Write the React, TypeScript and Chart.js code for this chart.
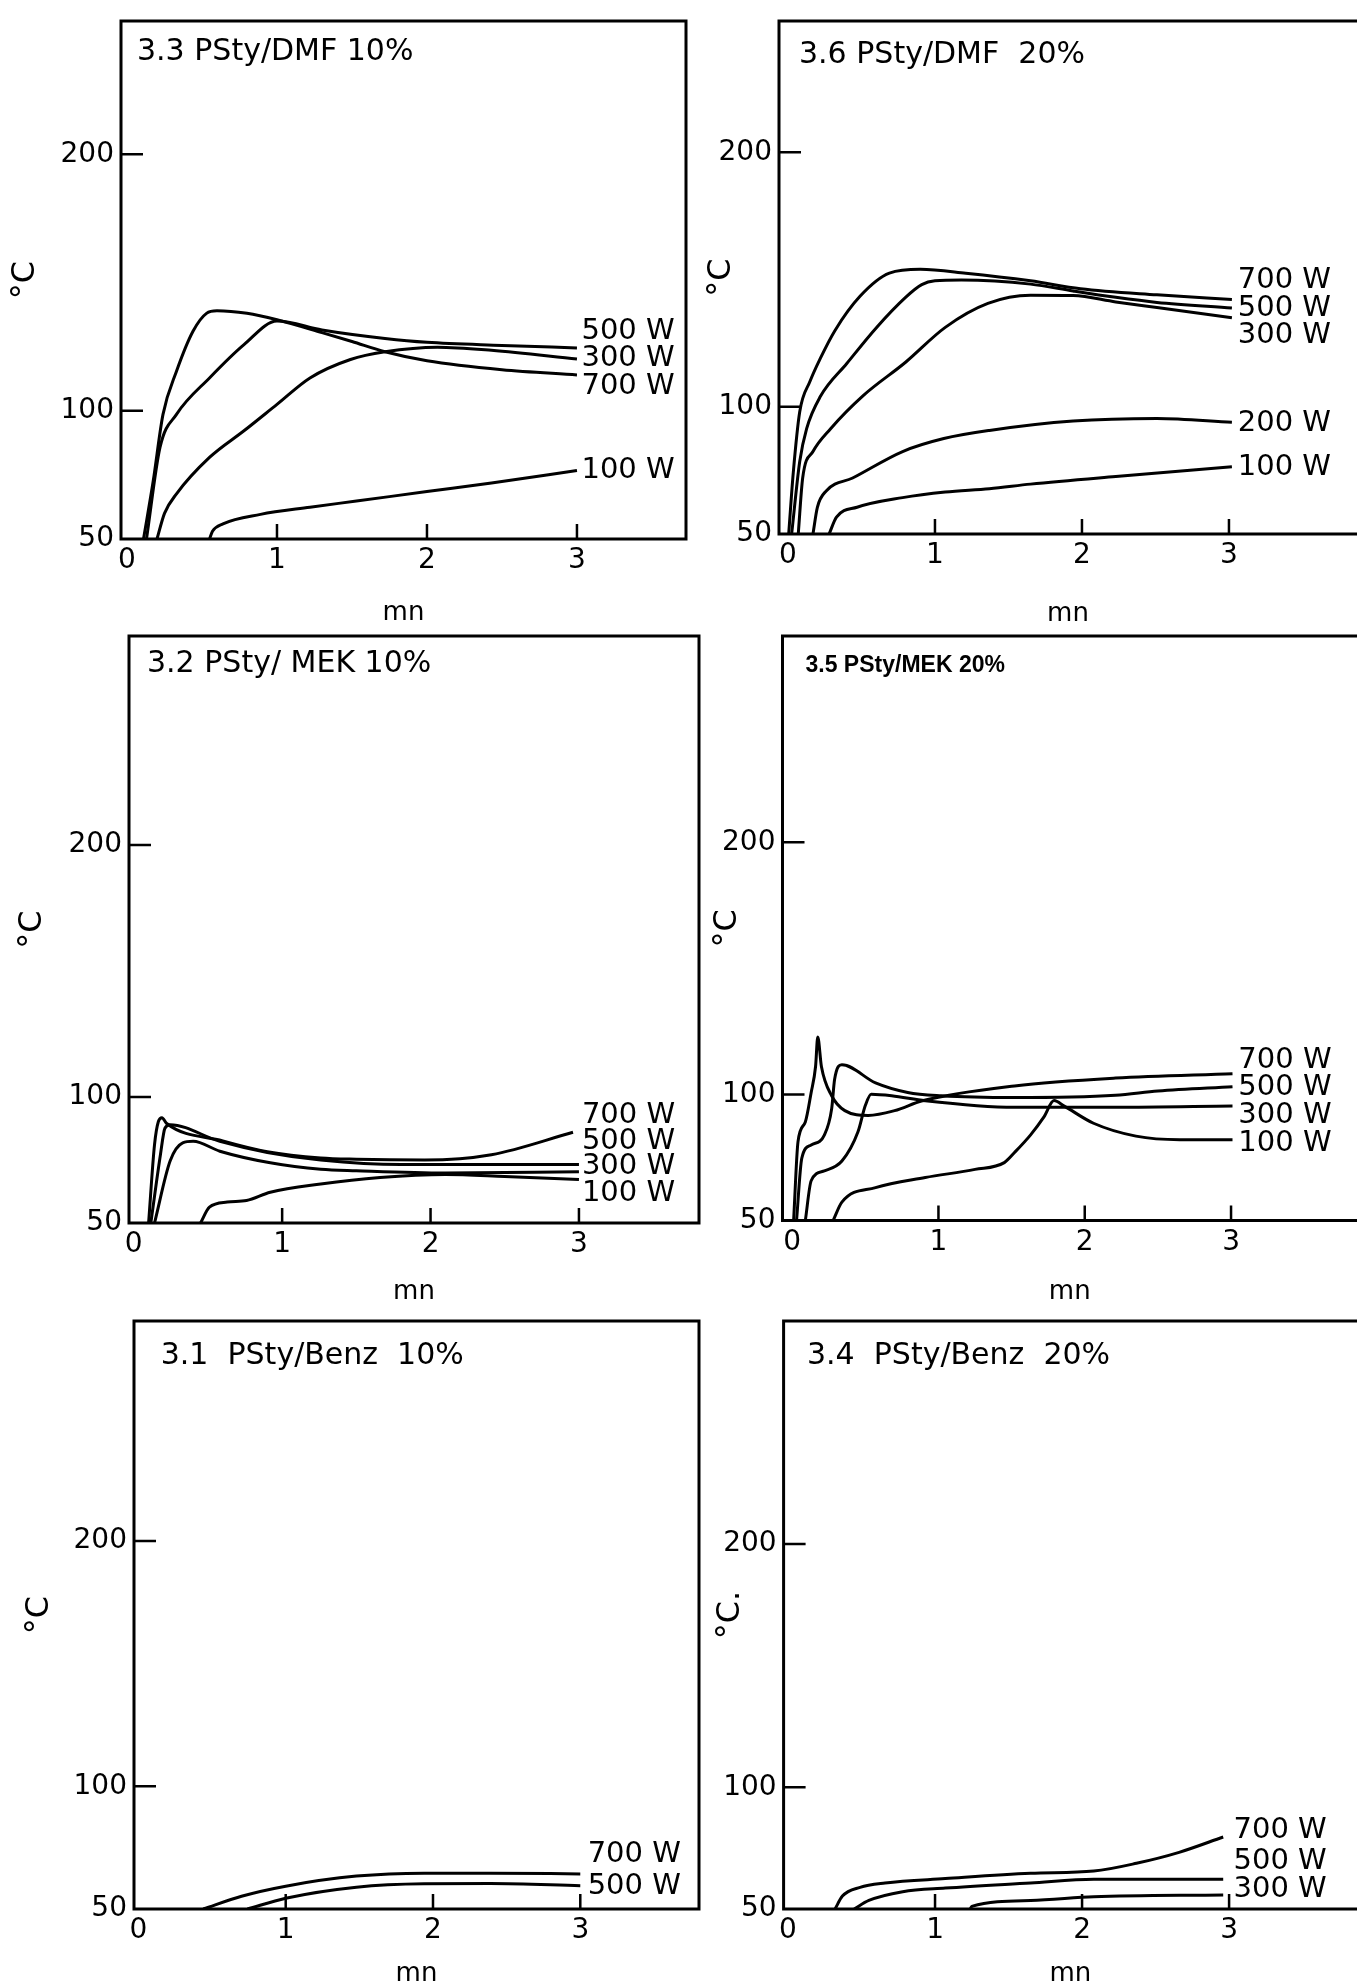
import React, { useEffect, useRef } from 'react';
import { Chart, registerables } from 'chart.js';

Chart.register(...registerables);

const FONT = 'DejaVu Sans';

// ---- axis ticks ----
const X_TICKS = [0, 1, 2, 3];
const Y_TICKS = [50, 100, 200];
const X_INNER_TICKS = [1, 2, 3];
const Y_INNER_TICKS = [100, 200];

// ---- 3.3 PSty/DMF 10% ----
const dmf10_x700 = [0.11, 0.175, 0.24, 0.33, 0.44, 0.53, 0.6, 0.8, 1.0, 1.3, 1.5, 1.72, 2.0, 2.5, 3.0];
const dmf10_y700 = [50, 72.7, 98.6, 115.4, 131, 138, 139, 138, 135.5, 130.5, 127, 123, 119.5, 116, 114];
const dmf10_x500 = [0.13, 0.22, 0.33, 0.55, 0.78, 1.0, 1.3, 1.72, 2.0, 2.5, 3.0];
const dmf10_y500 = [50, 85.7, 98.6, 112.8, 125.8, 135, 131.5, 128.2, 126.7, 125.5, 124.5];
const dmf10_x300 = [0.2, 0.25, 0.33, 0.55, 0.78, 1.0, 1.22, 1.49, 1.72, 2.07, 2.43, 3.0];
const dmf10_y300 = [50, 60, 67.6, 81.8, 92.2, 102.5, 112.8, 120, 123, 124.8, 123.6, 120.2];
const dmf10_x100 = [0.55, 0.57, 0.64, 0.89, 1.22, 1.53, 2.0, 2.43, 3.0];
const dmf10_y100 = [50, 53, 55.9, 59.6, 62.4, 64.8, 68.5, 71.8, 76.7];
const dmf10_labels = ['500 W', '300 W', '700 W', '100 W'];
const dmf10_labelY = [131, 120.5, 109.3, 76.7];

// ---- 3.6 PSty/DMF 20% ----
const dmf20_x700 = [0.005, 0.036, 0.08, 0.15, 0.22, 0.32, 0.49, 0.69, 0.9, 1.21, 1.65, 1.99, 2.51, 3.02];
const dmf20_y700 = [50, 74, 98, 110, 119, 130, 143.4, 152.5, 154, 152.5, 149.5, 146.4, 144, 142.2];
const dmf20_x500 = [0.025, 0.08, 0.127, 0.22, 0.4, 0.6, 0.8, 0.91, 1.0, 1.18, 1.65, 1.94, 2.23, 2.51, 3.02];
const dmf20_y500 = [50, 78.5, 91.4, 104, 117, 131, 143, 148, 149.5, 149.8, 148.2, 145.5, 143, 141, 138.8];
const dmf20_x300 = [0.07, 0.1, 0.17, 0.29, 0.51, 0.8, 1.07, 1.36, 1.65, 1.94, 2.23, 2.51, 3.02];
const dmf20_y300 = [50, 72, 82.4, 91.4, 104.3, 117.5, 131.2, 140.6, 143.8, 143.7, 141.2, 139, 135];
const dmf20_x200 = [0.17, 0.2, 0.26, 0.44, 0.78, 1.06, 1.37, 1.94, 2.51, 3.02];
const dmf20_y200 = [50, 60.5, 66.9, 72, 82.4, 87.5, 90.7, 94.4, 95.4, 93.9];
const dmf20_x100 = [0.28, 0.33, 0.47, 0.78, 1.07, 1.37, 1.65, 2.23, 3.02];
const dmf20_y100 = [50, 56.6, 60.5, 64.3, 66.5, 67.8, 69.6, 72.6, 76.4];
const dmf20_labels = ['700 W', '500 W', '300 W', '200 W', '100 W'];
const dmf20_labelY = [149.5, 138.8, 128.2, 93.5, 76];

// ---- 3.2 PSty/MEK 10% ----
const mek10_x700 = [0.1, 0.14, 0.166, 0.19, 0.22, 0.6, 0.9, 1.26, 1.5, 1.96, 2.41, 2.96];
const mek10_y700 = [50, 81.1, 90.3, 91.8, 89.6, 82.6, 78.3, 75.8, 75.3, 75, 77.1, 86];
const mek10_x500 = [0.115, 0.18, 0.21, 0.245, 0.58, 0.9, 1.26, 1.8, 3.0];
const mek10_y500 = [50, 77.2, 87.6, 89, 82.4, 78, 75, 73.2, 73.2];
const mek10_x300 = [0.14, 0.245, 0.33, 0.4, 0.58, 0.92, 1.26, 1.5, 2.1, 3.0];
const mek10_y300 = [50, 74.6, 81.8, 82.4, 78.5, 73.9, 71.3, 70.7, 69.8, 70.3];
const mek10_x100 = [0.45, 0.51, 0.63, 0.76, 0.92, 1.26, 1.66, 2.1, 2.5, 3.0];
const mek10_y100 = [50, 56.3, 58.3, 58.9, 62.2, 65.5, 68.1, 69.3, 68.5, 67.3];
const mek10_labels = ['700 W', '500 W', '300 W', '100 W'];
const mek10_labelY = [92.7, 82.5, 72.4, 61.9];

// ---- 3.5 PSty/MEK 20% ----
const mek20_x700 = [0.01, 0.04, 0.09, 0.13, 0.16, 0.175, 0.2, 0.27, 0.36, 0.52, 0.7, 0.89, 1.52, 2.21, 3.01];
const mek20_y700 = [50, 81.3, 89.1, 100.8, 111.1, 122.8, 111.1, 99.5, 93.6, 91.7, 93.6, 97.5, 103.4, 106.5, 108.2];
const mek20_x500 = [0.03, 0.066, 0.13, 0.22, 0.27, 0.29, 0.34, 0.57, 0.79, 1.02, 1.52, 2.21, 2.5, 3.01];
const mek20_y500 = [50, 74.8, 80, 83.9, 94.3, 105.9, 111.8, 104.6, 100.8, 99.5, 98.8, 99.7, 101.4, 103.1];
const mek20_x300 = [0.09, 0.13, 0.22, 0.34, 0.45, 0.5, 0.54, 0.68, 0.91, 1.52, 2.21, 3.01];
const mek20_y300 = [50, 65.8, 69.7, 73.6, 85.2, 95.6, 100.1, 99.5, 97.5, 94.9, 94.9, 95.4];
const mek20_x100 = [0.28, 0.34, 0.57, 0.91, 1.25, 1.45, 1.52, 1.63, 1.72, 1.79, 1.86, 2.06, 2.35, 2.65, 3.01];
const mek20_y100 = [50, 57.3, 63.1, 67.1, 70.3, 73, 77, 84, 91, 97.6, 95.4, 88.6, 83.5, 82.1, 82.1];
const mek20_labels = ['700 W', '500 W', '300 W', '100 W'];
const mek20_labelY = [113.3, 102.6, 91.5, 80.6];

// ---- 3.1 PSty/Benz 10% ----
const benz10_x700 = [0.44, 0.7, 1.0, 1.48, 1.94, 2.39, 3.0];
const benz10_y700 = [50, 55.2, 59.3, 63.4, 64.6, 64.6, 64.3];
const benz10_x500 = [0.74, 1.0, 1.48, 1.94, 2.39, 3.0];
const benz10_y500 = [50, 54.4, 58.9, 60.3, 60.4, 59.5];
const benz10_labels = ['700 W', '500 W'];
const benz10_labelY = [72.3, 59.3];

// ---- 3.4 PSty/Benz 20% ----
const benz20_x700 = [0.32, 0.37, 0.49, 0.66, 1.07, 1.65, 2.08, 2.37, 2.66, 2.96];
const benz20_y700 = [50, 55.3, 58.9, 60.7, 62.5, 64.7, 65.6, 68.8, 73.3, 79.6];
const benz20_x500 = [0.45, 0.55, 0.78, 1.07, 1.65, 2.08, 2.96];
const benz20_y500 = [50, 53.5, 57.1, 58.6, 60.7, 62.2, 62.2];
const benz20_x300 = [1.24, 1.25, 1.65, 2.08, 2.96];
const benz20_y300 = [50, 51.1, 53.5, 55, 55.8];
const benz20_labels = ['700 W', '500 W', '300 W'];
const benz20_labelY = [82.1, 69.7, 58];

type SeriesDef = { x: number[]; y: number[] };
type PanelDef = {
  key: string;
  title: string;
  titleFont: string;
  yTitle: string;
  series: SeriesDef[];
  labels: string[];
  labelY: number[];
  labelX: number;
  left: number; top: number; w: number; h: number;
  padT: number; padR: number;
  yWidth: number; xHeight: number;
  xMin: number; xMax: number; yMax: number;
  yTitlePad: number; xTitlePad: number;
  titleDx: number; titleDy: number;
  closed: boolean;
};

const mainTitleFont = `30px "${FONT}"`;
const TICK_SIZE = 28;
const LABEL_FONT = `29px "${FONT}"`;

const PANELS: PanelDef[] = [
  {
    key: 'dmf10', title: '3.3 PSty/DMF 10%', titleFont: mainTitleFont, yTitle: '°C',
    series: [
      { x: dmf10_x700, y: dmf10_y700 }, { x: dmf10_x500, y: dmf10_y500 },
      { x: dmf10_x300, y: dmf10_y300 }, { x: dmf10_x100, y: dmf10_y100 },
    ],
    labels: dmf10_labels, labelY: dmf10_labelY, labelX: 3.03,
    left: 0, top: 0, w: 705, h: 640, padT: 18, padR: 19, yWidth: 121, xHeight: 101,
    xMin: -0.04, xMax: 3.727, yMax: 252, yTitlePad: 10, xTitlePad: 14, titleDx: 16, titleDy: 39, closed: true,
  },
  {
    key: 'dmf20', title: '3.6 PSty/DMF  20%', titleFont: mainTitleFont, yTitle: '°C',
    series: [
      { x: dmf20_x700, y: dmf20_y700 }, { x: dmf20_x500, y: dmf20_y500 },
      { x: dmf20_x300, y: dmf20_y300 }, { x: dmf20_x200, y: dmf20_y200 },
      { x: dmf20_x100, y: dmf20_y100 },
    ],
    labels: dmf20_labels, labelY: dmf20_labelY, labelX: 3.06,
    left: 700, top: 0, w: 657, h: 640, padT: 12, padR: 0, yWidth: 79, xHeight: 106,
    xMin: -0.061, xMax: 3.871, yMax: 251.6, yTitlePad: 6, xTitlePad: 13, titleDx: 20, titleDy: 41.5, closed: false,
  },
  {
    key: 'mek10', title: '3.2 PSty/ MEK 10%', titleFont: mainTitleFont, yTitle: '°C',
    series: [
      { x: mek10_x700, y: mek10_y700 }, { x: mek10_x500, y: mek10_y500 },
      { x: mek10_x300, y: mek10_y300 }, { x: mek10_x100, y: mek10_y100 },
    ],
    labels: mek10_labels, labelY: mek10_labelY, labelX: 3.02,
    left: 0, top: 615, w: 705, h: 690, padT: 12.8, padR: 6, yWidth: 129, xHeight: 82,
    xMin: -0.032, xMax: 3.809, yMax: 283, yTitlePad: 17, xTitlePad: 0, titleDx: 18, titleDy: 35.6, closed: true,
  },
  {
    key: 'mek20', title: '3.5 PSty/MEK 20%', titleFont: 'bold 23px "Liberation Sans"', yTitle: '°C',
    series: [
      { x: mek20_x700, y: mek20_y700 }, { x: mek20_x500, y: mek20_y500 },
      { x: mek20_x300, y: mek20_y300 }, { x: mek20_x100, y: mek20_y100 },
    ],
    labels: mek20_labels, labelY: mek20_labelY, labelX: 3.05,
    left: 700, top: 615, w: 657, h: 690, padT: 9.3, padR: 0, yWidth: 82.5, xHeight: 84.4,
    xMin: -0.066, xMax: 3.861, yMax: 281.8, yTitlePad: 12, xTitlePad: 0, titleDx: 23, titleDy: 35.6, closed: false,
  },
  {
    key: 'benz10', title: '3.1  PSty/Benz  10%', titleFont: mainTitleFont, yTitle: '°C',
    series: [{ x: benz10_x700, y: benz10_y700 }, { x: benz10_x500, y: benz10_y500 }],
    labels: benz10_labels, labelY: benz10_labelY, labelX: 3.05,
    left: 0, top: 1300, w: 705, h: 687, padT: 21, padR: 6, yWidth: 134, xHeight: 78,
    xMin: -0.03, xMax: 3.806, yMax: 289.6, yTitlePad: 24, xTitlePad: 0, titleDx: 26.7, titleDy: 42.5, closed: true,
  },
  {
    key: 'benz20', title: '3.4  PSty/Benz  20%', titleFont: mainTitleFont, yTitle: '°C.',
    series: [
      { x: benz20_x700, y: benz20_y700 }, { x: benz20_x500, y: benz20_y500 },
      { x: benz20_x300, y: benz20_y300 },
    ],
    labels: benz20_labels, labelY: benz20_labelY, labelX: 3.03,
    left: 700, top: 1300, w: 657, h: 687, padT: 21, padR: 0, yWidth: 83.6, xHeight: 78,
    xMin: -0.03, xMax: 3.87, yMax: 291.7, yTitlePad: 14.5, xTitlePad: 0, titleDx: 23.4, titleDy: 42.5, closed: false,
  },
];

const decorPlugin = {
  id: 'decor',
  afterDraw(chart: any, _args: any, opts: any) {
    const { ctx, chartArea: a, scales } = chart;
    const xs = scales.x;
    const ys = scales.y;
    ctx.save();
    ctx.strokeStyle = '#000';
    ctx.fillStyle = '#000';
    ctx.lineWidth = 3;
    ctx.lineCap = 'square';
    ctx.beginPath();
    ctx.moveTo(a.right, a.top);
    ctx.lineTo(a.left, a.top);
    ctx.lineTo(a.left, a.bottom);
    ctx.lineTo(a.right, a.bottom);
    if (opts.closed) ctx.lineTo(a.right, a.top);
    ctx.stroke();

    ctx.lineWidth = 2.5;
    ctx.lineCap = 'butt';
    ctx.beginPath();
    for (const v of X_INNER_TICKS) {
      const px = xs.getPixelForValue(v);
      ctx.moveTo(px, a.bottom);
      ctx.lineTo(px, a.bottom - 15);
    }
    for (const v of Y_INNER_TICKS) {
      const py = ys.getPixelForValue(v);
      ctx.moveTo(a.left, py);
      ctx.lineTo(a.left + 22, py);
    }
    ctx.stroke();

    // curve labels
    ctx.font = LABEL_FONT;
    ctx.textAlign = 'left';
    ctx.textBaseline = 'middle';
    const lx = xs.getPixelForValue(opts.labelX);
    opts.labels.forEach((t: string, i: number) => {
      ctx.fillText(t, lx, ys.getPixelForValue(opts.labelY[i]));
    });

    // panel title
    ctx.font = opts.titleFont;
    ctx.textBaseline = 'alphabetic';
    ctx.fillText(opts.title, a.left + opts.titleDx, a.top + opts.titleDy);
    ctx.restore();
  },
};

function buildConfig(p: PanelDef): any {
  return {
    type: 'line',
    data: {
      datasets: p.series.map((s) => ({
        data: s.x.map((x, i) => ({ x, y: s.y[i] })),
        borderColor: '#000',
        borderWidth: 3,
        pointRadius: 0,
        fill: false,
        cubicInterpolationMode: 'monotone',
      })),
    },
    options: {
      animation: false,
      responsive: false,
      events: [],
      layout: { padding: { left: 0, top: p.padT, right: p.padR, bottom: 0 } },
      plugins: {
        legend: { display: false },
        tooltip: { enabled: false },
        decor: {
          closed: p.closed,
          labels: p.labels,
          labelY: p.labelY,
          labelX: p.labelX,
          title: p.title,
          titleFont: p.titleFont,
          titleDx: p.titleDx,
          titleDy: p.titleDy,
        },
      },
      scales: {
        x: {
          type: 'linear',
          min: p.xMin,
          max: p.xMax,
          afterBuildTicks: (s: any) => { s.ticks = X_TICKS.map((v) => ({ value: v })); },
          afterFit: (s: any) => { s.height = p.xHeight; },
          grid: { display: false, drawTicks: false },
          border: { display: false },
          ticks: {
            autoSkip: false,
            maxRotation: 0,
            padding: 8,
            color: '#000',
            font: { family: FONT, size: TICK_SIZE, lineHeight: 1 },
            callback: (v: any) => String(v),
          },
          title: {
            display: true,
            text: 'mn',
            color: '#000',
            font: { family: FONT, size: 26, lineHeight: 1 },
            padding: { top: 0, bottom: p.xTitlePad },
          },
        },
        y: {
          type: 'linear',
          min: 50,
          max: p.yMax,
          afterBuildTicks: (s: any) => { s.ticks = Y_TICKS.map((v) => ({ value: v })); },
          afterFit: (s: any) => { s.width = p.yWidth; },
          grid: { display: false, drawTicks: false },
          border: { display: false },
          ticks: {
            autoSkip: false,
            padding: 7,
            color: '#000',
            font: { family: FONT, size: TICK_SIZE, lineHeight: 1 },
            callback: (v: any) => String(v),
          },
          title: {
            display: true,
            text: p.yTitle,
            color: '#000',
            font: { family: FONT, size: 32, lineHeight: 1 },
            padding: { top: p.yTitlePad, bottom: 0 },
          },
        },
      },
    },
    plugins: [decorPlugin],
  };
}

function PanelChart({ p }: { p: PanelDef }) {
  const ref = useRef<HTMLCanvasElement | null>(null);
  useEffect(() => {
    if (!ref.current) return;
    const chart = new Chart(ref.current, buildConfig(p));
    return () => chart.destroy();
  }, [p]);
  return (
    <canvas
      ref={ref}
      width={p.w}
      height={p.h}
      style={{ position: 'absolute', left: p.left, top: p.top, width: p.w, height: p.h }}
    />
  );
}

export default function App() {
  return (
    <div style={{ position: 'absolute', left: 0, top: 0, width: 1357, height: 1987, background: '#fff', overflow: 'hidden' }}>
      {PANELS.map((p) => (
        <PanelChart key={p.key} p={p} />
      ))}
    </div>
  );
}
